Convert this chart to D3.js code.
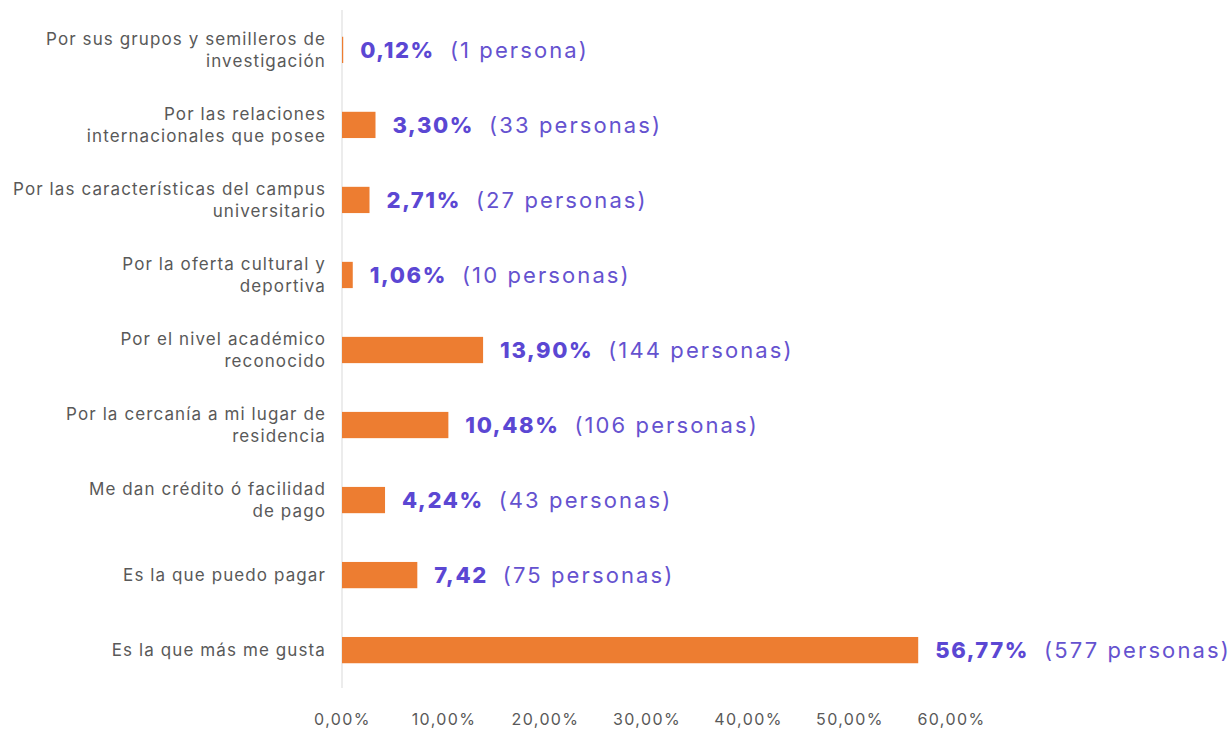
<!DOCTYPE html>
<html><head><meta charset="utf-8">
<script src="https://cdn.jsdelivr.net/npm/d3@7"></script>
<style>body{margin:0;background:#fff}</style>
</head><body>
<svg id="c" width="1232" height="730"></svg>
<script>
const categories = [
  ["Por sus grupos y semilleros de","investigación"],
  ["Por las relaciones","internacionales que posee"],
  ["Por las características del campus","universitario"],
  ["Por la oferta cultural y","deportiva"],
  ["Por el nivel académico","reconocido"],
  ["Por la cercanía a mi lugar de","residencia"],
  ["Me dan crédito ó facilidad","de pago"],
  ["Es la que puedo pagar"],
  ["Es la que más me gusta"]
];
const values = [0.12, 3.30, 2.71, 1.06, 13.90, 10.48, 4.24, 7.42, 56.77];
const valueLabels = ["0,12%","3,30%","2,71%","1,06%","13,90%","10,48%","4,24%","7,42","56,77%"];
const countLabels = ["(1 persona)","(33 personas)","(27 personas)","(10 personas)","(144 personas)","(106 personas)","(43 personas)","(75 personas)","(577 personas)"];
const ticks = [0,10,20,30,40,50,60];
const tickLabels = ["0,00%","10,00%","20,00%","30,00%","40,00%","50,00%","60,00%"];

const svg = d3.select("#c");
const x = d3.scaleLinear().domain([0,60]).range([342,951]);
const y = d3.scaleBand().domain(d3.range(categories.length)).range([12,688]).paddingInner(0.65).paddingOuter(0.33);

svg.append("line").attr("x1",x(0)).attr("x2",x(0)).attr("y1",10).attr("y2",688)
  .attr("stroke","#d9d9d9").attr("stroke-width",1);

svg.selectAll("rect.bar").data(values).join("rect")
  .attr("x",x(0)).attr("y",(d,i)=>y(i)).attr("height",y.bandwidth())
  .attr("width",d=>x(d)-x(0)).attr("fill","#ED7D31");

const cat = svg.selectAll("text.cat").data(categories).join("text")
  .attr("text-anchor","end").attr("font-family","Inter, 'Open Sans', sans-serif")
  .attr("font-size",17).attr("letter-spacing","1.1px").attr("fill","#595959");
cat.each(function(lines,i){
  const t = d3.select(this);
  const cy = y(i)+y.bandwidth()/2;
  const lh = 22;
  const start = cy - (lines.length-1)*lh/2;
  lines.forEach((l,j)=>{
    t.append("tspan").attr("x",326).attr("y",start+j*lh).attr("dy","0.35em").text(l);
  });
});

svg.selectAll("g.lab").data(values).join("g").each(function(d,i){
  const g = d3.select(this);
  const cy = y(i)+y.bandwidth()/2;
  const t1 = g.append("text").attr("x",x(d)+17).attr("y",cy).attr("dy","0.35em")
    .attr("font-family","Inter, sans-serif").attr("font-weight",800).attr("font-size",22)
    .attr("letter-spacing","1.6px").attr("fill","#5b47d3").text(valueLabels[i]);
  const w = t1.node().getComputedTextLength();
  g.append("text").attr("x",x(d)+17+w+15).attr("y",cy).attr("dy","0.35em")
    .attr("font-family","Inter, sans-serif").attr("font-weight",400).attr("font-size",22)
    .attr("letter-spacing","2.1px").attr("fill","#6552cf").text(countLabels[i]);
});

const xAxis = d3.axisBottom(x).tickValues(ticks).tickSize(0).tickPadding(0)
  .tickFormat((d,i)=>tickLabels[i]);
const ax = svg.append("g").attr("transform","translate(0,714)").call(xAxis);
ax.select(".domain").remove();
ax.selectAll("text").attr("font-family","Inter, sans-serif").attr("font-size",16)
  .attr("letter-spacing","1.4px").attr("fill","#595959");
</script>
</body></html>
